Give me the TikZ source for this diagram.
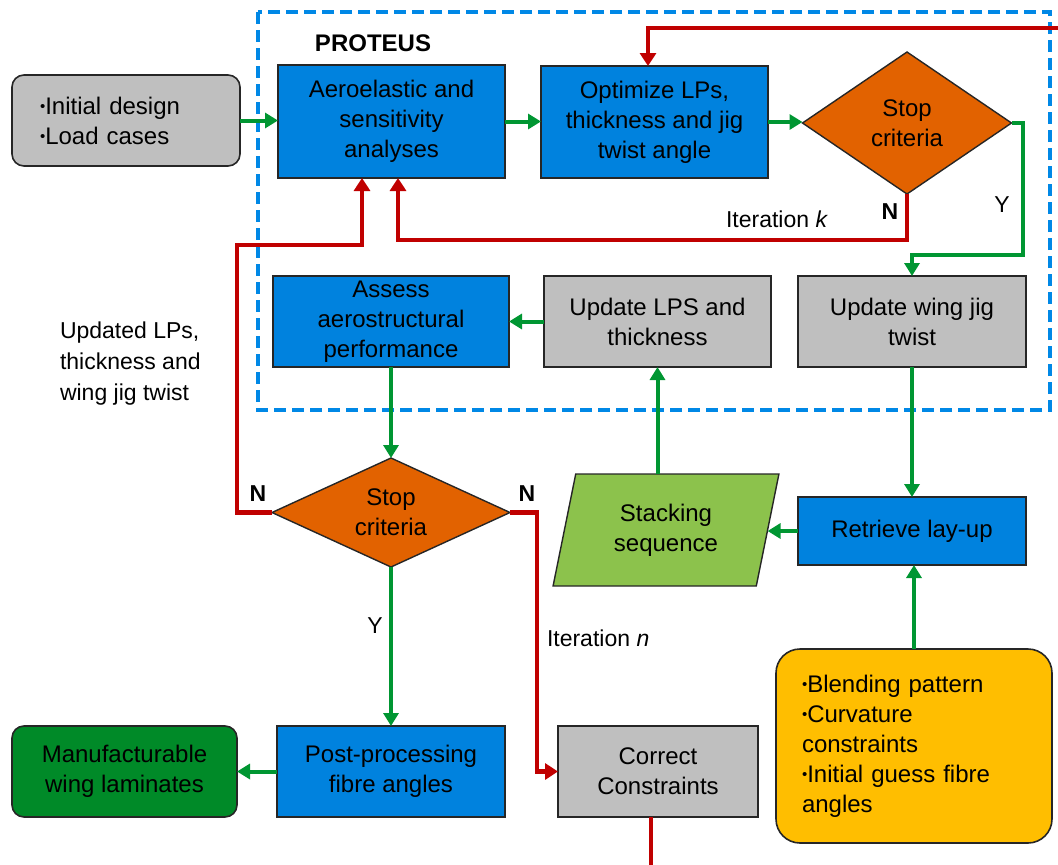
\documentclass[tikz,border=0pt]{standalone}
\usepackage{fontspec}
\setmainfont{Liberation Sans}
\usetikzlibrary{arrows.meta,shapes.geometric,calc}

\definecolor{pblue}{RGB}{0,130,222}
\definecolor{pgray}{RGB}{191,191,191}
\definecolor{porange}{RGB}{226,98,0}
\definecolor{pdkgreen}{RGB}{0,138,40}
\definecolor{plgreen}{RGB}{140,194,76}
\definecolor{pyellow}{RGB}{255,190,0}
\definecolor{pred}{RGB}{192,0,0}
\definecolor{parrow}{RGB}{0,150,50}
\definecolor{pdash}{RGB}{0,136,230}

% small raised bullet used in the list boxes
\newcommand{\pbul}{\raisebox{0.12em}{\fontsize{15}{15}\selectfont •}}

\begin{document}
\begin{tikzpicture}[x=1pt,y=-1pt,
  every node/.style={font=\fontsize{24}{30}\selectfont, inner sep=0pt, outer sep=0pt},
  box/.style={draw=black!85, line width=1.6pt, rectangle, align=center},
  bluebox/.style={box, fill=pblue},
  graybox/.style={box, fill=pgray},
  roundbox/.style={box, rounded corners=12pt},
  decision/.style={draw=black!85, line width=1.4pt, diamond, aspect=1.5, fill=porange, align=center},
  garrow/.style={draw=parrow, line width=4pt, -{Triangle[width=15pt,length=13pt]}},
  rarrow/.style={draw=pred, line width=4.2pt, -{Triangle[width=16pt,length=13pt]}},
  rline/.style={draw=pred, line width=4.2pt},
  lbl/.style={font=\fontsize{23}{28}\selectfont},
  yn/.style={font=\fontsize{23}{28}\selectfont\bfseries},
]
\useasboundingbox (0,0) rectangle (1058,865);

% PROTEUS frame
\draw[pdash, line width=3.8pt, dash pattern=on 12pt off 6pt] (258,12) rectangle (1050,410);
\node[font=\fontsize{24}{30}\selectfont\bfseries] (title) at (373,43) {PROTEUS};

% nodes
\node[roundbox, fill=pgray, minimum width=228pt, minimum height=91pt, text width=172pt, align=left] (init) at (126,120.5) {\pbul Initial design\\\pbul Load cases};
\node[bluebox, minimum width=227pt, minimum height=113pt] (aero) at (391.5,121.5) {Aeroelastic and\\sensitivity\\analyses};
\node[bluebox, minimum width=227pt, minimum height=112pt] (opt) at (654.5,122) {Optimize LPs,\\thickness and jig\\twist angle};
\node[decision, minimum width=209pt, minimum height=142pt] (stop1) at (907,123) {Stop\\criteria};

\node[bluebox, minimum width=236pt, minimum height=91pt] (assess) at (391,321.5) {Assess\\aerostructural\\performance};
\node[graybox, minimum width=227pt, minimum height=91pt] (updlps) at (657.5,321.5) {Update LPS and\\thickness};
\node[graybox, minimum width=228pt, minimum height=91pt] (updwing) at (912,321.5) {Update wing jig\\twist};

\node[decision, aspect=2.2, minimum width=238pt, minimum height=109pt] (stop2) at (391,512.5) {Stop\\criteria};
\node[draw=black!85, line width=1.4pt, fill=plgreen, trapezium, trapezium left angle=76, trapezium right angle=104,
      trapezium stretches=true, minimum width=226pt, minimum height=112pt, align=center] (stack) at (666,530) {Stacking\\sequence};
\node[bluebox, minimum width=228pt, minimum height=68pt] (retrieve) at (912,531) {Retrieve lay-up};

\node[roundbox, fill=pdkgreen, minimum width=225pt, minimum height=91pt] (manuf) at (124.5,771.5) {Manufacturable\\wing laminates};
\node[bluebox, minimum width=228pt, minimum height=91pt] (post) at (391,771.5) {Post-processing\\fibre angles};
\node[graybox, minimum width=200pt, minimum height=91pt] (correct) at (658,771.5) {Correct\\Constraints};
\node[box, fill=pyellow, rounded corners=24pt, minimum width=276pt, minimum height=194pt, text width=224pt, align=left] (guess) at (914,746)
  {\pbul Blending pattern\\\pbul Curvature\\constraints\\\pbul Initial guess fibre\\angles};

% free ends and bends
\coordinate (rin) at (1058,28);
\coordinate (rout) at (651,865);
\coordinate (kbend) at (907,240);
\coordinate (ybend) at (1023,255);
\coordinate (nleft) at (237,245);
\coordinate (nright) at (537,512.5);

% green flow
\draw[garrow] (init.east) -- (init.east -| aero.west);
\draw[garrow] (aero.east) -- (aero.east -| opt.west);
\draw[garrow] (opt.east) -- (opt.east -| stop1.west);
\draw[garrow] (stop1.east) -| (ybend) -| (updwing.north);
\draw[garrow] (updlps.west) -- (assess.east);
\draw[garrow] (assess.south) -- (stop2.north);
\draw[garrow] (updwing.south) -- (retrieve.north);
\draw[garrow] (retrieve.west) -- (retrieve.west -| stack.east);
\draw[garrow] (stack.north -| updlps.south) -- (updlps.south);
\draw[garrow] (guess.north) -- (guess.north |- retrieve.south);
\draw[garrow] (stop2.south) -- (post.north);
\draw[garrow] (post.west) -- (manuf.east);

% red feedback loops
\draw[rarrow] (rin) -| ([xshift=-6.5pt]opt.north);
\draw[rarrow] (stop1.south) -- (kbend) -| ([xshift=6.5pt]aero.south);
\draw[rarrow] (stop2.west) -| (nleft) -| ([xshift=-29.5pt]aero.south);
\draw[rarrow] (stop2.east) -- (nright) |- (correct.west);
\draw[rline] (correct.south -| rout) -- (rout);

% labels
\node[lbl] (itk) at (777,219) {Iteration \textit{k}};
\node[yn] (n1) at (890,212) {N};
\node[lbl] (y1) at (1002,205) {Y};
\node[lbl, anchor=west, align=left, font=\fontsize{23}{31}\selectfont] (upd) at (60,364) {Updated LPs,\\thickness and\\wing jig twist};
\node[yn] (n2) at (258,494) {N};
\node[yn] (n3) at (527,494) {N};
\node[lbl] (y2) at (375,626) {Y};
\node[lbl, anchor=west] (itn) at (547,638) {Iteration \textit{n}};
\end{tikzpicture}
\end{document}
